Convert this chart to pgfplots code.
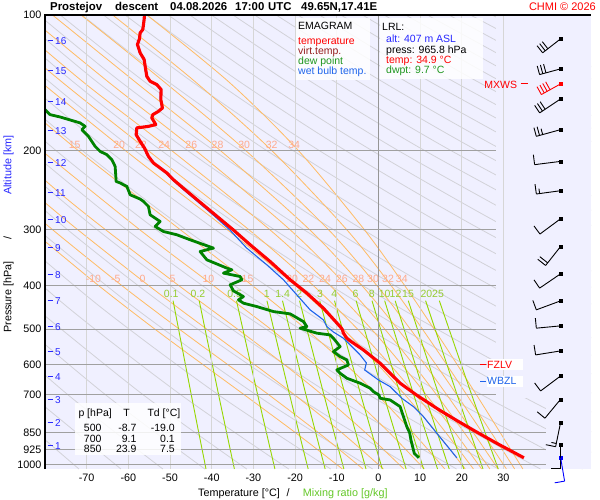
\documentclass[border=0pt]{standalone}
\usepackage{fontspec}
\setmainfont{Liberation Sans}
\usepackage{pgfplots}
\pgfplotsset{compat=1.18}
\usetikzlibrary{calc}
\definecolor{bgc}{RGB}{240,240,255}
\definecolor{isoc}{RGB}{214,214,214}
\definecolor{isozero}{RGB}{150,150,150}
\definecolor{isobc}{RGB}{160,160,160}
\definecolor{dryc}{RGB}{210,210,216}
\definecolor{moistc}{RGB}{255,188,100}
\definecolor{mixc}{RGB}{150,215,0}
\definecolor{mlab}{RGB}{255,170,140}
\definecolor{glab}{RGB}{150,205,50}
\definecolor{tdc}{RGB}{0,130,0}
\definecolor{twc}{RGB}{30,100,235}
\definecolor{vtc}{RGB}{150,30,30}
\definecolor{altc}{RGB}{40,40,255}
\definecolor{lgr}{RGB}{30,150,30}
\definecolor{xgr}{RGB}{100,200,40}
\newcommand{\fs}{\fontsize{10.5}{12.6}\selectfont}
\newcommand{\barb}[4][black]{%
  \draw[#1,line width=0.9pt] (#2) -- ++(#3:#4);
}
\newcommand{\feath}[5][black]{% coord, angle, position along staff, length
  \pgfmathsetmacro{\fang}{#3-90}%
  \draw[#1,line width=0.9pt] ($(#2)+(#3:#4)$) -- ++(\fang:#5);
}
\pgfplotsset{
  dry/.style={draw=dryc, line width=0.8pt, smooth},
  moist/.style={draw=moistc, line width=0.8pt, smooth},
  mix/.style={draw=mixc, line width=0.9pt, smooth},
  isot/.style={draw=isoc, line width=0.9pt},
  isob/.style={draw=isobc, line width=1pt},
}
\begin{document}
\begin{tikzpicture}[x=1pt,y=1pt]
\useasboundingbox (0,0) rectangle (600,500);
\fill[white] (0,0) rectangle (600,500);
\begin{axis}[
  at={(45pt,31pt)}, anchor=south west,
  scale only axis, width=546pt, height=454pt,
  xmin=-80, xmax=51, ymin=100, ymax=1023,
  ymode=log, y dir=reverse,
  axis line style={draw=none},
  tick style={draw=none},
  xtick={-70,-60,-50,-40,-30,-20,-10,0,10,20,30},
  xticklabels={-70,-60,-50,-40,-30,-20,-10,0,10,20,30},
  ytick={100,200,300,400,500,600,700,850,925,1000},
  yticklabels={100,200,300,400,500,600,700,850,925,1000},
  tick label style={font=\fontsize{10.8}{13}\selectfont},
  xticklabel style={anchor=center, yshift=-9pt},
  axis background/.style={fill=bgc},
  clip mode=individual,
]
% dry adiabats
\addplot[dry] coordinates {(-71.85,1023) (-92.52,700)};
\addplot[dry] coordinates {(-61.78,1023) (-83.49,700)};
\addplot[dry] coordinates {(-51.72,1023) (-74.46,700) (-98.03,450)};
\addplot[dry] coordinates {(-41.65,1023) (-65.43,700) (-90.07,450)};
\addplot[dry] coordinates {(-31.59,1023) (-56.40,700) (-82.11,450)};
\addplot[dry] coordinates {(-21.52,1023) (-47.37,700) (-74.14,450) (-95.92,300)};
\addplot[dry] coordinates {(-11.45,1023) (-38.34,700) (-66.18,450) (-88.83,300)};
\addplot[dry] coordinates {(-1.39,1023) (-29.30,700) (-58.22,450) (-81.74,300)};
\addplot[dry] coordinates {(8.68,1023) (-20.27,700) (-50.26,450) (-74.65,300) (-96.36,200)};
\addplot[dry] coordinates {(18.74,1023) (-11.24,700) (-42.30,450) (-67.56,300) (-90.05,200)};
\addplot[dry] coordinates {(28.81,1023) (-2.21,700) (-34.34,450) (-60.47,300) (-83.73,200)};
\addplot[dry] coordinates {(38.87,1023) (6.82,700) (-26.38,450) (-53.38,300) (-77.42,200) (-96.38,140)};
\addplot[dry] coordinates {(48.94,1023) (15.85,700) (-18.42,450) (-46.29,300) (-71.11,200) (-90.68,140)};
\addplot[dry] coordinates {(59.00,1023) (24.88,700) (-10.46,450) (-39.20,300) (-64.79,200) (-84.98,140)};
\addplot[dry] coordinates {(69.07,1023) (33.91,700) (-2.50,450) (-32.11,300) (-58.48,200) (-79.28,140) (-97.04,100)};
\addplot[dry] coordinates {(79.13,1023) (42.95,700) (5.46,450) (-25.02,300) (-52.16,200) (-73.57,140) (-91.86,100)};
\addplot[dry] coordinates {(51.98,700) (13.42,450) (-17.94,300) (-45.85,200) (-67.87,140) (-86.68,100)};
\addplot[dry] coordinates {(61.01,700) (21.38,450) (-10.85,300) (-39.54,200) (-62.17,140) (-81.50,100)};
\addplot[dry] coordinates {(70.04,700) (29.34,450) (-3.76,300) (-33.22,200) (-56.47,140) (-76.32,100)};
\addplot[dry] coordinates {(79.07,700) (37.30,450) (3.33,300) (-26.91,200) (-50.76,140) (-71.14,100)};
\addplot[dry] coordinates {(45.26,450) (10.42,300) (-20.59,200) (-45.06,140) (-65.96,100)};
\addplot[dry] coordinates {(53.22,450) (17.51,300) (-14.28,200) (-39.36,140) (-60.78,100)};
\addplot[dry] coordinates {(61.18,450) (24.60,300) (-7.97,200) (-33.66,140) (-55.60,100)};
\addplot[dry] coordinates {(69.14,450) (31.69,300) (-1.65,200) (-27.96,140) (-50.42,100)};
\addplot[dry] coordinates {(38.78,300) (4.66,200) (-22.25,140) (-45.24,100)};
\addplot[dry] coordinates {(45.87,300) (10.98,200) (-16.55,140) (-40.06,100)};
\addplot[dry] coordinates {(52.96,300) (17.29,200) (-10.85,140) (-34.88,100)};
\addplot[dry] coordinates {(60.05,300) (23.60,200) (-5.15,140) (-29.70,100)};
\addplot[dry] coordinates {(67.13,300) (29.92,200) (0.56,140) (-24.52,100)};
\addplot[dry] coordinates {(36.23,200) (6.26,140) (-19.34,100)};
\addplot[dry] coordinates {(42.55,200) (11.96,140) (-14.16,100)};
\addplot[dry] coordinates {(48.86,200) (17.66,140) (-8.99,100)};
\addplot[dry] coordinates {(55.17,200) (23.36,140) (-3.81,100)};
\addplot[dry] coordinates {(61.49,200) (29.07,140) (1.37,100)};
\addplot[dry] coordinates {(67.8,200) (34.77,140) (6.55,100)};
\addplot[dry] coordinates {(40.47,140) (11.73,100)};
\addplot[dry] coordinates {(46.17,140) (16.91,100)};
\addplot[dry] coordinates {(51.88,140) (22.09,100)};
\addplot[dry] coordinates {(57.58,140) (27.27,100)};
% moist adiabats
\addplot[moist] coordinates {(-8.66,1023) (-10,1000) (-19.86,850) (-32.15,700) (-42.02,600) (-53.6,500) (-67.1,400) (-83.4,300)};
\addplot[moist] coordinates {(-3.74,1023) (-5,1000) (-14.34,850) (-26.26,700) (-36.08,600) (-47.74,500) (-61.53,400) (-78.24,300) (-88.1,250)};
\addplot[moist] coordinates {(1.18,1023) (0,1000) (-8.75,850) (-20.09,700) (-29.63,600) (-41.16,500) (-55.09,400) (-72.2,300) (-82.5,250)};
\addplot[moist] coordinates {(6.08,1023) (5,1000) (-3.04,850) (-13.50,700) (-22.51,600) (-33.76,500) (-47.86,400) (-65.53,300) (-76.2,250) (-88.2,200)};
\addplot[moist] coordinates {(10.99,1023) (10,1000) (2.66,850) (-6.89,700) (-15.21,600) (-25.83,500) (-39.57,400) (-57.33,300) (-80.9,200)};
\addplot[moist] coordinates {(15.90,1023) (15,1000) (8.34,850) (-0.26,700) (-7.74,600) (-17.38,500) (-30.21,400) (-47.6,300) (-72.1,200) (-88,150)};
\addplot[moist] coordinates {(20.82,1023) (20,1000) (13.99,850) (6.39,700) (-0.09,600) (-8.40,500) (-19.79,400) (-36.33,300) (-60.78,200) (-81.0,141)};
\addplot[moist] coordinates {(22.79,1023) (22,1000) (16.21,850) (8.96,700) (2.82,600) (-4.98,500) (-15.59,400) (-31.14,300) (-55.31,200) (-75.9,141) (-95,100)};
\addplot[moist] coordinates {(24.77,1023) (24,1000) (18.42,850) (11.48,700) (5.67,600) (-1.66,500) (-11.55,400) (-26.12,300) (-49.68,200) (-70.8,141) (-89.8,100)};
\addplot[moist] coordinates {(26.74,1023) (26,1000) (20.62,850) (13.97,700) (8.45,600) (1.55,500) (-7.66,400) (-21.26,300) (-43.90,200) (-64.75,141) (-84.4,100)};
\addplot[moist] coordinates {(28.72,1023) (28,1000) (22.80,850) (16.42,700) (11.17,600) (4.66,500) (-3.94,400) (-16.56,300) (-37.98,200) (-58.30,141) (-78.2,100)};
\addplot[moist] coordinates {(30.70,1023) (30,1000) (24.96,850) (18.83,700) (13.82,600) (7.67,500) (-0.36,400) (-12.02,300) (-31.89,200) (-51.34,141) (-71.33,100)};
\addplot[moist] coordinates {(32.68,1023) (32,1000) (27.11,850) (21.20,700) (16.41,600) (10.57,500) (3.06,400) (-7.64,300) (-25.65,200) (-43.86,141) (-63.76,100)};
\addplot[moist] coordinates {(34.66,1023) (34,1000) (29.25,850) (23.53,700) (18.93,600) (13.37,500) (6.32,400) (-3.42,300) (-19.26,200) (-35.85,141) (-55.54,100)};
% mixing ratio lines
\addplot[mix] coordinates {(-41.37,1023) (-44.90,700) (-49.27,432)};
\addplot[mix] coordinates {(-34.56,1023) (-38.34,700) (-43.00,432)};
\addplot[mix] coordinates {(-24.84,1023) (-28.97,700) (-34.06,432)};
\addplot[mix] coordinates {(-16.86,1023) (-21.30,700) (-26.75,432)};
\addplot[mix] coordinates {(-12.79,1023) (-17.38,700) (-23.02,432)};
\addplot[mix] coordinates {(-8.29,1023) (-13.07,700) (-18.93,432)};
\addplot[mix] coordinates {(-2.98,1023) (-7.97,700) (-14.09,432)};
\addplot[mix] coordinates {(0.92,1023) (-4.23,700) (-10.54,432)};
\addplot[mix] coordinates {(6.64,1023) (1.25,700) (-5.35,432)};
\addplot[mix] coordinates {(10.84,1023) (5.27,700) (-1.54,432)};
\addplot[mix] coordinates {(14.19,1023) (8.48,700) (1.49,432)};
\addplot[mix] coordinates {(16.99,1023) (11.15,700) (4.01,432)};
\addplot[mix] coordinates {(20.48,1023) (14.49,700) (7.16,432)};
\addplot[mix] coordinates {(25.09,1023) (18.89,700) (11.32,432)};
\addplot[mix] coordinates {(28.75,1023) (22.38,700) (14.61,432)};
% cover right strip
\fill[bgc] (axis cs:28.3,100) rectangle (axis cs:51,712);
\fill[bgc] (axis cs:40.3,712) rectangle (axis cs:51,1023);
% isotherms
\addplot[isot] coordinates {(-70,100) (-70,1023)};
\addplot[isot] coordinates {(-60,100) (-60,1023)};
\addplot[isot] coordinates {(-50,100) (-50,1023)};
\addplot[isot] coordinates {(-40,100) (-40,1023)};
\addplot[isot] coordinates {(-30,100) (-30,1023)};
\addplot[isot] coordinates {(-20,100) (-20,1023)};
\addplot[isot] coordinates {(-10,100) (-10,1023)};
\addplot[isot] coordinates {(10,100) (10,1023)};
\addplot[isot] coordinates {(20,100) (20,1023)};
\addplot[isot] coordinates {(30,100) (30,1023)};
\addplot[draw=isozero, line width=1pt] coordinates {(0,100) (0,1023)};
% isobars
\addplot[isob] coordinates {(-80,200) (28.3,200)};
\addplot[isob] coordinates {(-80,300) (28.3,300)};
\addplot[isob] coordinates {(-80,400) (28.3,400)};
\addplot[isob] coordinates {(-80,500) (28.3,500)};
\addplot[isob] coordinates {(-80,600) (28.3,600)};
\addplot[isob] coordinates {(-80,700) (28.3,700)};
\addplot[isob] coordinates {(-80,850) (40.3,850)};
\addplot[isob] coordinates {(-80,925) (40.3,925)};
\addplot[isob] coordinates {(-80,1000) (40.3,1000)};
% moist adiabat labels
\begin{scope}[every node/.style={text=mlab, font=\fs, inner sep=0pt}]
\node at (axis cs:-72.9,194.3) {15};
\node at (axis cs:-62.2,194.3) {20};
\node at (axis cs:-57.0,194.3) {22};
\node at (axis cs:-51.4,194.3) {24};
\node at (axis cs:-44.9,194.3) {26};
\node at (axis cs:-38.6,194.3) {28};
\node at (axis cs:-32.2,194.3) {30};
\node at (axis cs:-25.6,194.3) {32};
\node at (axis cs:-20.2,194.3) {34};
\node at (axis cs:-68.4,386.8) {-10};
\node at (axis cs:-63.0,386.8) {-5};
\node at (axis cs:-56.6,386.8) {0};
\node at (axis cs:-49.4,386.8) {5};
\node at (axis cs:-40.8,386.8) {10};
\node at (axis cs:-31.4,386.8) {15};
\node at (axis cs:-20.7,386.8) {20};
\node at (axis cs:-16.8,386.8) {22};
\node at (axis cs:-12.8,386.8) {24};
\node at (axis cs:-8.8,386.8) {26};
\node at (axis cs:-4.8,386.8) {28};
\node at (axis cs:-1.3,386.8) {30};
\node at (axis cs:2.3,386.8) {32};
\node at (axis cs:5.6,386.8) {34};
\end{scope}
\begin{scope}[every node/.style={text=glab, font=\fs, inner sep=0pt}]
\node at (axis cs:-49.7,417.7) {0.1};
\node at (axis cs:-43.3,417.7) {0.2};
\node at (axis cs:-34.5,417.7) {0.5};
\node at (axis cs:-26.8,417.7) {1};
\node at (axis cs:-23.0,417.7) {1.4};
\node at (axis cs:-19.0,417.7) {2};
\node at (axis cs:-14.0,417.7) {3};
\node at (axis cs:-10.6,417.7) {4};
\node at (axis cs:-5.5,417.7) {6};
\node at (axis cs:-1.6,417.7) {8};
\node at (axis cs:1.5,417.7) {10};
\node at (axis cs:4.1,417.7) {12};
\node at (axis cs:7.1,417.7) {15};
\node at (axis cs:11.5,417.7) {20};
\node at (axis cs:14.3,417.7) {25};
\end{scope}
% dew point
\addplot[draw=tdc, line width=2.8pt, line join=round] coordinates {
(-82,160.6) (-79.97,162.4) (-78.77,166.6) (-76.37,168.6) (-71.57,173.8) (-70.37,176.9) (-71.16,179.9)
(-69.58,186.2) (-67.97,196.0) (-66.77,201.1) (-65.16,204.5) (-63.96,209.8) (-63.17,217.2) (-62.93,234.5)
(-61.97,236.4) (-60.36,240.6) (-59.57,251.1) (-57.17,256.7) (-56.38,259.8) (-55.18,266.6) (-54.78,278.2)
(-52.38,287.9) (-53.57,295.4) (-51.58,303.1) (-48.37,308.2) (-45.18,316.2) (-39.59,330.0) (-42.79,335.8)
(-41.17,350.4) (-36.37,365.6) (-35.17,368.8) (-37.19,375.1) (-33.18,381.7) (-32.77,388.2) (-35.58,398.3)
(-34.79,410.7) (-32.39,422.9) (-33.59,430.2) (-32.39,437.5) (-29.17,445.2) (-25.19,456.7) (-21.18,462.2)
(-17.99,480.8) (-17.18,493.3) (-18.79,497.3) (-14.78,510.2) (-11.59,514.7) (-10.80,523.5) (-9.19,546.5)
(-10.80,560.7) (-9.19,575.3) (-7.58,585.1) (-7.20,600.3) (-9.98,615.9) (-9.19,626.4) (-7.58,642.7)
(-4.39,659.2) (-1.99,676.5) (-1.20,688.3) (0.1,700) (0.41,712.1) (2.81,718.3) (5.21,743.4) (6.00,782.5)
(6.81,823.6) (7.5,850) (7.8,881.9) (8.6,944.1) (9.7,965.8)};
% wet bulb
\addplot[draw=twc, line width=1.1pt] coordinates {
(-56.29,100) (-56.36,102.3) (-56.68,107.7) (-57.32,109.6) (-57.49,113.0) (-57.97,116.3) (-57.32,121.4)
(-56.36,125.6) (-56.12,130.0) (-55.72,136.9) (-54.93,140.4) (-53.32,142.8) (-52.29,146.5) (-52.36,154.2)
(-51.97,161.0) (-52.93,163.8) (-54.28,166.6) (-54.52,169.4) (-53.56,175.3) (-55.33,176.9) (-58.12,178.3)
(-58.28,184.6) (-57.32,191.0) (-56.29,197.6) (-55.33,206.3) (-54.13,213.4) (-52.52,218.9) (-50.92,224.6)
(-49.43,232.5) (-46.73,244.7) (-43.9,257.6) (-39.7,278.2)
(-35.7,300.4) (-31.6,330.0) (-26.78,359.5) (-22.79,388.2) (-19.58,419.3) (-16.39,452.8) (-13.20,476.6)
(-12.38,493.3) (-10.80,507.1) (-8.40,523.5) (-6.38,546.5) (-4.39,570.3) (-2.9,594) (-3.3,616) (0.0,648.3)
(2.81,671.0) (5.61,712.1) (8.40,743.4) (10.80,782.5) (14.01,852.1) (18.81,965.8)};
% temperature
\addplot[draw=red, line width=3.1pt, line join=round] coordinates {
(-56.14,100) (-56.21,102.3) (-56.53,107.7) (-57.17,109.6) (-57.34,113.0) (-57.82,116.3) (-57.17,121.4)
(-56.21,125.6) (-55.97,130.0) (-55.57,136.9) (-54.78,140.4) (-53.17,142.8) (-52.14,146.5) (-52.21,154.2)
(-51.82,161.0) (-52.78,163.8) (-54.13,166.6) (-54.37,169.4) (-53.41,175.3) (-55.18,176.9) (-57.97,178.3)
(-58.13,184.6) (-57.17,191.0) (-56.14,197.6) (-55.18,206.3) (-53.98,213.4) (-52.37,218.9) (-50.77,224.6)
(-49.18,232.5) (-46.38,244.7) (-43.50,257.6) (-39.18,278.2) (-34.86,300.4) (-30.78,324.4) (-25.98,353.5)
(-21.18,388.2) (-17.18,415.6) (-13.20,448.9) (-9.19,493.3) (-8.70,500) (-8.40,510.2) (-7.58,523.5)
(-6.79,530.8) (-3.60,555.9) (0.41,595.1) (5.21,659.2) (7.45,682.4) (9.10,700) (14.6,756) (19.0,800)
(23.9,850) (28.69,900) (34.9,965.8)};
% wind barb positions
\addplot[only marks, mark=square*, mark size=1.5pt, black] coordinates {
(43.71,112.98) (43.71,131.77) (43.71,153.69) (43.71,179.89) (43.71,211.65) (43.71,245.96) (43.71,283.94)
(43.71,327.28) (43.71,376.46) (43.71,432.37) (43.71,491.48) (43.71,558.74) (43.71,635.13) (43.71,715.76)
(43.71,805.4) (43.71,904.8)};
\addplot[only marks, mark=square*, mark size=1.5pt, red] coordinates {(43.71,142.31)};
\addplot[only marks, mark=square*, mark size=1.5pt, blue] coordinates {(43.71,965.8)};
\coordinate (w1) at (axis cs:43.71,112.98);
\coordinate (w2) at (axis cs:43.71,131.77);
\coordinate (w3) at (axis cs:43.71,142.31);
\coordinate (w4) at (axis cs:43.71,153.69);
\coordinate (w5) at (axis cs:43.71,179.89);
\coordinate (w6) at (axis cs:43.71,211.65);
\coordinate (w7) at (axis cs:43.71,245.96);
\coordinate (w8) at (axis cs:43.71,283.94);
\coordinate (w9) at (axis cs:43.71,327.28);
\coordinate (w10) at (axis cs:43.71,376.46);
\coordinate (w11) at (axis cs:43.71,432.37);
\coordinate (w12) at (axis cs:43.71,491.48);
\coordinate (w13) at (axis cs:43.71,558.74);
\coordinate (w14) at (axis cs:43.71,635.13);
\coordinate (w15) at (axis cs:43.71,715.76);
\coordinate (w16) at (axis cs:43.71,805.4);
\coordinate (w17) at (axis cs:43.71,904.8);
\coordinate (w18) at (axis cs:43.71,965.8);
% border
\draw[black, line width=1.2pt] (axis cs:-80,1023) -- (axis cs:-80,100) -- (axis cs:51,100);
\end{axis}
% wind barbs
\barb{w1}{217.9}{22.8}\feath{w1}{217.9}{22.8}{9}\feath{w1}{217.9}{19.5}{9}\feath{w1}{217.9}{16.2}{9}
\barb{w2}{195.2}{21.8}\feath{w2}{195.2}{21.8}{9}\feath{w2}{195.2}{18.5}{9}\feath{w2}{195.2}{15.2}{9}
\barb[red]{w3}{209}{22}\feath[red]{w3}{209}{22}{9}\feath[red]{w3}{209}{18.7}{9}\feath[red]{w3}{209}{15.4}{9}\feath[red]{w3}{209}{12.1}{9}
\barb{w4}{213.7}{25.2}\feath{w4}{213.7}{25.2}{9}\feath{w4}{213.7}{21.9}{9}\feath{w4}{213.7}{18.6}{9}
\barb{w5}{195.4}{25.2}\feath{w5}{195.4}{25.2}{9}\feath{w5}{195.4}{21.9}{9}\feath{w5}{195.4}{18.6}{6}
\barb{w6}{187.2}{26.2}\feath{w6}{187.2}{26.2}{10}
\barb{w7}{187.7}{24.5}\feath{w7}{187.7}{24.5}{10}\feath{w7}{187.7}{21.2}{5}
\barb{w8}{216.5}{25.7}\feath{w8}{216.5}{25.7}{10}
\barb{w9}{231.7}{24.2}\feath{w9}{231.7}{24.2}{10}\feath{w9}{231.7}{20.9}{10}
\barb{w10}{214.3}{25.4}\feath{w10}{214.3}{25.4}{10}
\barb{w11}{200.3}{25.9}\feath{w11}{200.3}{25.9}{10}
\barb{w12}{185.4}{24.4}\feath{w12}{185.4}{24.4}{10}
\barb{w13}{189.1}{25.3}\feath{w13}{189.1}{25.3}{10}
\barb{w14}{216.9}{25}\feath{w14}{216.9}{25}{10}
\barb{w15}{230.4}{24.6}\feath{w15}{230.4}{24.6}{10}
\barb{w16}{258.4}{24.9}\feath{w16}{258.4}{24.9}{10}\feath{w16}{258.4}{21.6}{5}
\barb{w17}{270}{23.3}\feath{w17}{270}{23.3}{10}
\barb[blue]{w18}{279.7}{23.7}\feath[blue]{w18}{279.7}{23.7}{10}
% title
\begin{scope}[every node/.style={inner sep=0pt, anchor=base west, font=\fontsize{11.4}{14}\selectfont\bfseries}]
\node at (50,489) {Prostejov};
\node at (115,489) {descent};
\node at (170,489) {04.08.2026};
\node at (235,489) {17:00};
\node at (268,489) {UTC};
\node at (301,489) {49.65N,17.41E};
\end{scope}
\node[inner sep=0pt, anchor=base east, text=red, font=\fontsize{11}{13}\selectfont] at (596,489) {CHMI © 2026};
% axis titles
\begin{scope}[every node/.style={inner sep=0pt, font=\fontsize{10.8}{13}\selectfont}]
\node[anchor=base west] at (198,3.2) {Temperature [°C]};
\node[anchor=base west] at (286.5,3.2) {/};
\node[anchor=base west, text=xgr] at (302.7,3.2) {Mixing ratio [g/kg]};
\node[anchor=base west, rotate=90] at (11.3,167) {Pressure [hPa]};
\node[anchor=base, rotate=90] at (11.3,262) {/};
\node[anchor=base east, rotate=90, text=altc] at (11.3,365) {Altitude [km]};
\end{scope}
% altitude labels
\begin{scope}[every node/.style={inner sep=0pt, anchor=base west, text=altc, font=\fontsize{10}{12}\selectfont}]
\foreach \k/\py in {16/41,15/71,14/102,13/131,12/163,11/193,10/220,9/248,8/275,7/301,6/327,5/352,4/377,3/400,2/423,1/446}{
  \draw[altc, line width=1pt] (47.5,500-\py) -- (53.3,500-\py);
  \node at (55,{500-\py-3.6}) {\k};
}
\end{scope}
% legend box
\fill[white, fill opacity=0.85] (296,482) rectangle (370,420);
\begin{scope}[every node/.style={inner sep=0pt, anchor=base west, font=\fs}]
\node at (298,470.2) {EMAGRAM};
\node[text=red] at (298,455) {temperature};
\node[text=vtc] at (298,445) {virt.temp.};
\node[text=lgr] at (298,435) {dew point};
\node[text=twc] at (298,425) {wet bulb temp.};
\end{scope}
% LRL box
\fill[white, fill opacity=0.85] (380,482) rectangle (483,421);
\begin{scope}[every node/.style={inner sep=0pt, anchor=base west, font=\fs}]
\node at (382,469) {LRL:};
\node[text=altc] at (386,457) {alt: 407 m ASL};
\node at (386,446.3) {press: 965.8 hPa};
\node[text=red] at (386,436.3) {temp: 34.9 °C};
\node[text=lgr] at (386,426.3) {dwpt: 9.7 °C};
\end{scope}
% table box
\fill[white, fill opacity=0.85] (75,97) rectangle (181,45);
\begin{scope}[every node/.style={inner sep=0pt, font=\fs}]
\node[anchor=base west] at (78.3,83.2) {p [hPa]};
\node[anchor=base] at (126.7,83.2) {T};
\node[anchor=base west] at (147.3,83.2) {Td [°C]};
\node[anchor=base east] at (101.7,68) {500};
\node[anchor=base east] at (136.7,68) {-8.7};
\node[anchor=base east] at (175,68) {-19.0};
\node[anchor=base east] at (101.7,57.3) {700};
\node[anchor=base east] at (136.7,57.3) {9.1};
\node[anchor=base east] at (175,57.3) {0.1};
\node[anchor=base east] at (101.7,47) {850};
\node[anchor=base east] at (136.7,47) {23.9};
\node[anchor=base east] at (175,47) {7.5};
\end{scope}
% FZLV / WBZL / MXWS
\fill[white] (486.7,140.7) rectangle (522.7,130);
\fill[white] (486.7,124) rectangle (522.7,113.3);
\draw[red, line width=1pt] (480,135) -- (485.7,135);
\draw[twc, line width=1pt] (480,118.7) -- (486,118.7);
\node[inner sep=0pt, anchor=base west, text=red, font=\fs] at (487,131.2) {FZLV};
\node[inner sep=0pt, anchor=base west, text=twc, font=\fs] at (487,115) {WBZL};
\node[inner sep=0pt, anchor=base east, text=red, font=\fs] at (517.3,411.2) {MXWS};
\draw[red, line width=1pt] (520.7,416) -- (528.3,416);
\end{tikzpicture}
\end{document}
